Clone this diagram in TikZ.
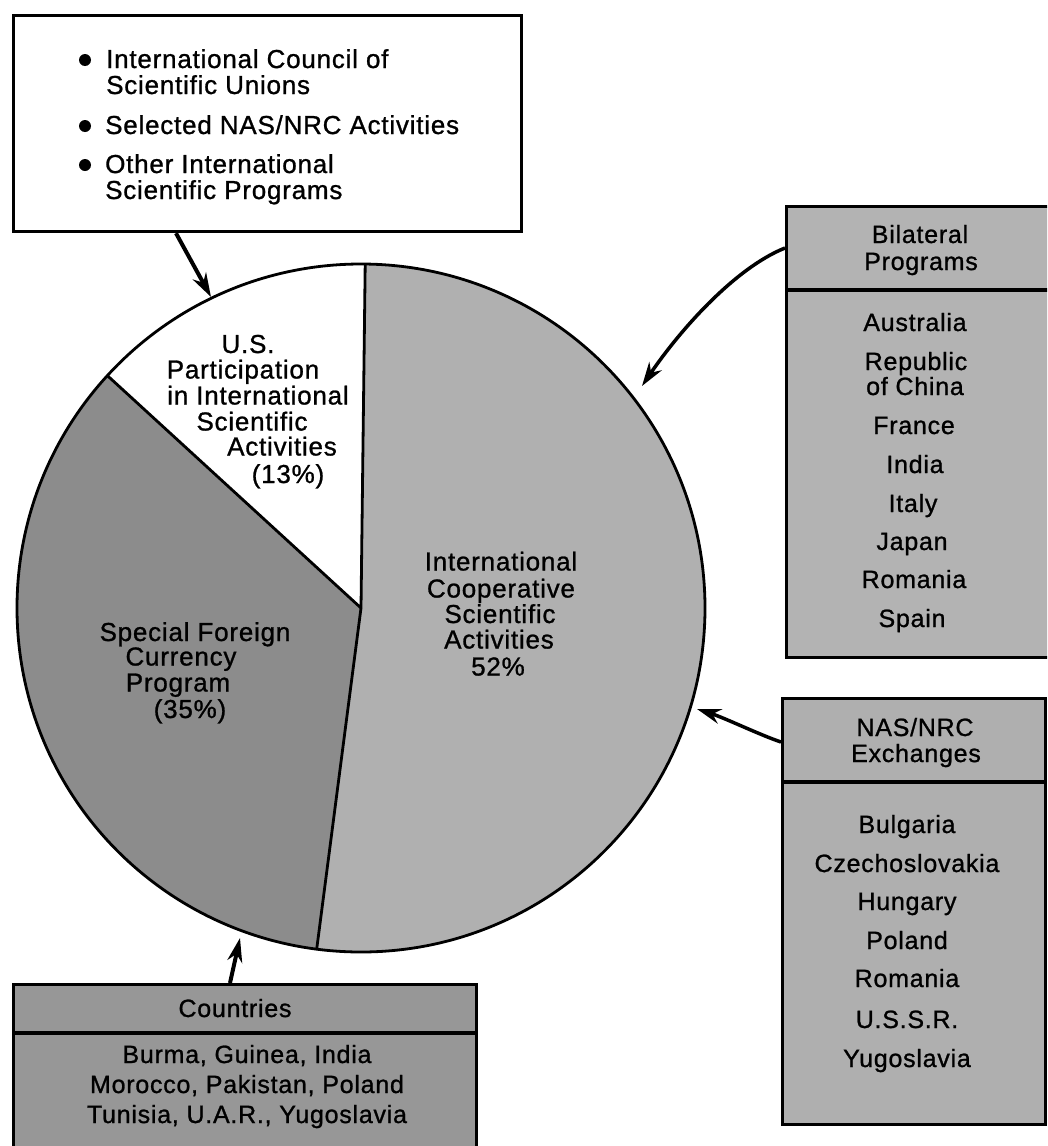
\documentclass[tikz,border=0pt]{standalone}
\usepackage{fontspec}
\setmainfont{Liberation Sans}[LetterSpace=3, FakeBold=1.0]
\usetikzlibrary{arrows.meta}
\definecolor{lightfill}{HTML}{B0B0B0}
\definecolor{darkfill}{HTML}{8C8C8C}
\definecolor{boxfill}{HTML}{B3B3B3}
\definecolor{nasfill}{HTML}{AFAFAF}
\definecolor{ctryfill}{HTML}{979797}
\newcommand\fszA{\fontsize{26}{26}\selectfont}
\newcommand\fszB{\fontsize{25}{25}\selectfont}
\begin{document}
\begin{tikzpicture}[x=1pt,y=-1pt,
  txt/.style={anchor=base, inner sep=0pt, font=\fszA},
  ltxt/.style={anchor=base, inner sep=0pt, font=\fszB},
  bul/.style={circle, fill=black, inner sep=0pt, minimum size=12pt},
  boxnode/.style={draw=black, line width=3.2pt, rectangle, inner sep=0pt, anchor=north west},
  divline/.style={line width=3.2pt},
  conn/.style={line width=4pt, -{Stealth[length=24pt,width=15pt]}}]
\clip (0,0) rectangle (1047,1146);
\fill[white] (0,0) rectangle (1047,1146);

% ---------- pie ----------
\coordinate (c) at (361,608);
\fill[lightfill] (c) -- ++(97.4:344) arc[start angle=97.4, end angle=-89.3, radius=344] -- cycle;
\fill[white] (c) -- ++(-89.3:344) arc[start angle=-89.3, end angle=-137.5, radius=344] -- cycle;
\fill[darkfill] (c) -- ++(-137.5:344) arc[start angle=-137.5, end angle=-262.6, radius=344] -- cycle;
\draw[line width=2.8pt] (c) circle[radius=344];
\draw[line width=2.8pt, line join=round] (c) -- ++(-89.3:344) (c) -- ++(-137.5:344) (c) -- ++(97.4:344);

% pie labels
\node[txt] (w1) at (248,353) {U.S.};
\node[txt] (w2) at (243,378.5) {Participation};
\node[txt] (w3) at (258,404.5) {in International};
\node[txt] (w4) at (252,430.5) {Scientific};
\node[txt] (w5) at (282,455.5) {Activities};
\node[txt] (w6) at (288,483) {(13\%)};

\node[txt] (d1) at (195,641) {Special Foreign};
\node[txt] (d2) at (181,665.5) {Currency};
\node[txt] (d3) at (178,691.5) {Program};
\node[txt] (d4) at (190,718) {(35\%)};

\node[txt] (g1) at (501,570.5) {International};
\node[txt] (g2) at (501,597.5) {Cooperative};
\node[txt] (g3) at (500,623) {Scientific};
\node[txt] (g4) at (499,648.5) {Activities};
\node[txt] (g5) at (498,675.5) {52\%};

% ---------- top box ----------
\node[boxnode, fill=white, minimum width=508pt, minimum height=216pt] (topbox) at (12,14) {};
\node[bul] (b1) at (85,60) {};
\node[txt, anchor=base west] (t1) at (106,68) {International Council of};
\node[txt, anchor=base west] (t2) at (106,94) {Scientific Unions};
\node[bul] (b2) at (85,126) {};
\node[txt, anchor=base west] (t3) at (105,134) {Selected NAS/NRC Activities};
\node[bul] (b3) at (85,165) {};
\node[txt, anchor=base west] (t4) at (105,173) {Other International};
\node[txt, anchor=base west] (t5) at (105,199) {Scientific Programs};

% ---------- bilateral box ----------
\node[boxnode, fill=boxfill, minimum width=300pt, minimum height=451pt] (bil) at (785,205) {};
\draw[divline] (bil.west |- 0,290) -- (bil.east |- 0,290);
\node[ltxt] (bh1) at (920,243) {Bilateral};
\node[ltxt] (bh2) at (921,270) {Programs};
\foreach \t/\xx/\yy [count=\i] in {Australia/915/331, Republic/916/370, of China/915/395,
    France/914/434, India/915/473, Italy/913/512, Japan/912/550, Romania/914/588, Spain/912/627}
  \node[ltxt, name=bl\i] at (\xx,\yy) {\t};

% ---------- NAS/NRC box ----------
\node[boxnode, fill=nasfill, minimum width=263pt, minimum height=426pt] (nas) at (781,697) {};
\draw[divline] (nas.west |- 0,782) -- (nas.east |- 0,782);
\node[ltxt] (nh1) at (915,736) {NAS/NRC};
\node[ltxt] (nh2) at (916,762) {Exchanges};
\foreach \t/\yy [count=\i] in {Bulgaria/833, Czechoslovakia/872, Hungary/910, Poland/949,
    Romania/987, U.S.S.R./1028, Yugoslavia/1067}
  \node[ltxt, name=nl\i] at (907,\yy) {\t};

% ---------- countries box ----------
\node[boxnode, fill=ctryfill, minimum width=463pt, minimum height=200pt] (cty) at (12,983) {};
\draw[divline] (cty.west |- 0,1033) -- (cty.east |- 0,1033);
\node[ltxt] (ch) at (235,1017) {Countries};
\node[ltxt] (c1) at (247,1063) {Burma, Guinea, India};
\node[ltxt] (c2) at (247,1093) {Morocco, Pakistan, Poland};
\node[ltxt] (c3) at (247,1123) {Tunisia, U.A.R., Yugoslavia};

% ---------- connectors ----------
\coordinate (pA) at (211,297);
\coordinate (pB) at (642,386);
\coordinate (pC) at (697,709);
\coordinate (pD) at (240,938);
\draw[conn] ([xshift=164pt]topbox.south west) -- (pA);
\draw[conn, line width=3.5pt] ([yshift=-43pt]bil.north west) .. controls (735,268) and (680,330) .. (pB);
\draw[conn, line width=3.5pt] ([yshift=-45pt]nas.north west) .. controls (760,735) and (725,718) .. (pC);
\draw[conn] ([xshift=218pt]cty.north west) -- (pD);
\end{tikzpicture}
\end{document}
